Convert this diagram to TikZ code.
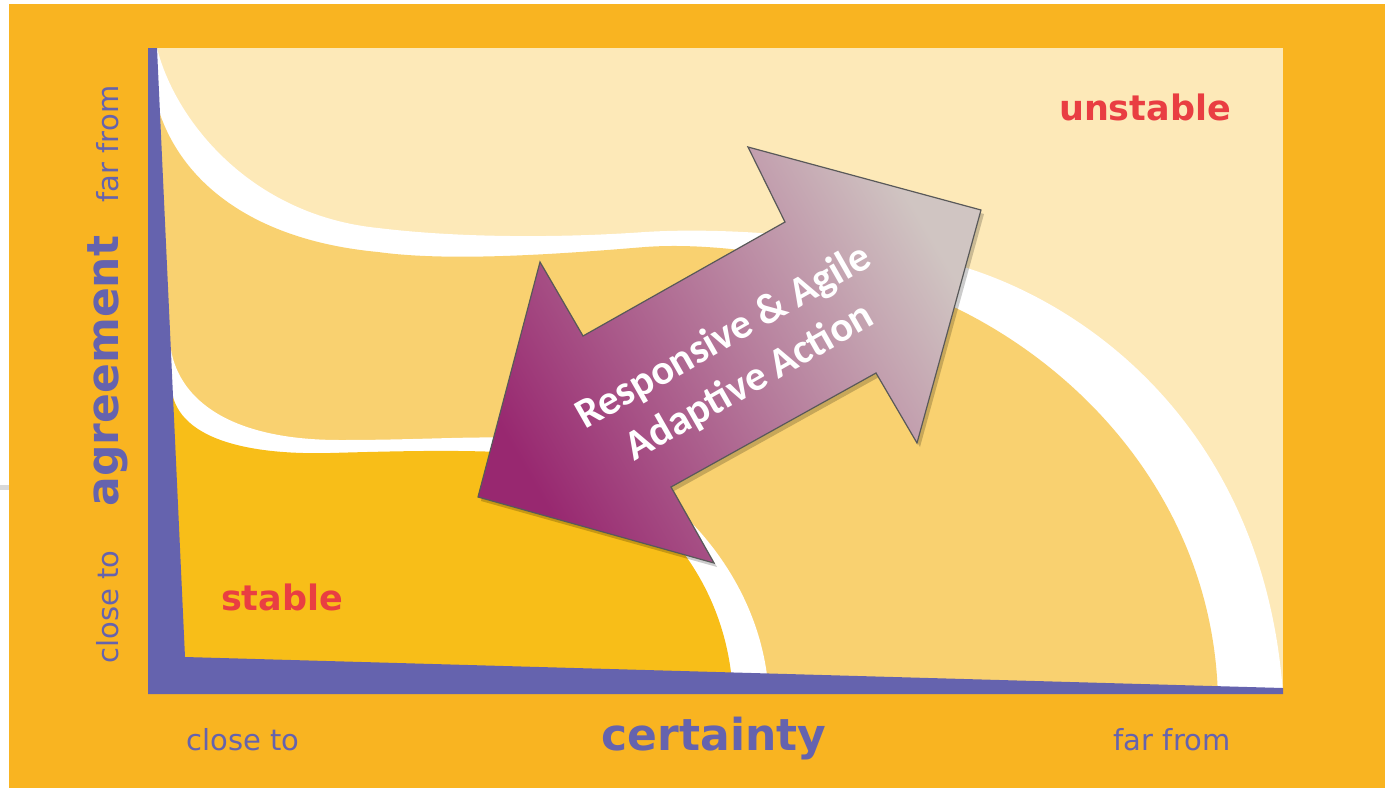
\documentclass[tikz,border=0pt]{standalone}
\usepackage{fontspec}
\setmainfont{DejaVu Sans}
\newfontfamily\arrowfont{Carlito}

\definecolor{bgorange}{RGB}{249,180,33}
\definecolor{cream}{RGB}{253,233,184}
\definecolor{midorange}{RGB}{249,209,112}
\definecolor{deeporange}{RGB}{248,190,24}
\definecolor{axisblue}{RGB}{101,99,174}
\definecolor{zonered}{RGB}{233,62,66}
\definecolor{arrowleft}{RGB}{152,40,112}
\definecolor{arrowmid}{RGB}{186,130,162}
\definecolor{arrowright}{RGB}{208,197,194}

\begin{document}
\begin{tikzpicture}[x=1pt,y=-1pt,
    axislabel/.style={text=axisblue,inner sep=0pt,font=\fontsize{29}{30}\selectfont},
    axistitle/.style={text=axisblue,inner sep=0pt,font=\bfseries\fontsize{44}{46}\selectfont},
    zonelabel/.style={text=zonered,inner sep=0pt,font=\bfseries\fontsize{35}{36}\selectfont}]
    \useasboundingbox (0,0) rectangle (1385,788);
    \fill[white] (0,0) rectangle (1385,788);
    \fill[bgorange] (9,4) rectangle (1385,788);
    \fill[gray!30] (0,485) rectangle (9,490);
    % zones
    \begin{scope}
        \clip (148,48) rectangle (1283,692);
        \fill[cream] (148,48) rectangle (1283,700);
        \fill[white] (140,48) -- (157,48) .. controls (175,120) and (250,215) .. (378,228)
            .. controls (460,238) and (560,238) .. (645,232)
            .. controls (740,226) and (880,240) .. (967,268)
            .. controls (1100,310) and (1265,440) .. (1283,694) -- (1290,700) -- (140,700) -- cycle;
        \fill[midorange] (140,108) -- (158,108) .. controls (180,180) and (250,240) .. (378,252)
            .. controls (450,262) and (560,254) .. (645,247)
            .. controls (740,240) and (880,270) .. (960,310)
            .. controls (1100,380) and (1215,520) .. (1218,700) -- (140,700) -- cycle;
        \fill[white] (140,350) -- (171,350) .. controls (180,400) and (230,440) .. (340,440)
            .. controls (420,440) and (470,436) .. (520,438)
            .. controls (640,445) and (765,560) .. (769,700) -- (140,700) -- cycle;
        \fill[deeporange] (140,397) -- (173,397) .. controls (185,440) and (250,455) .. (330,453)
            .. controls (400,451) and (450,450) .. (500,452)
            .. controls (620,458) and (730,560) .. (733,700) -- (140,700) -- cycle;
    \end{scope}
    % axes
    \fill[axisblue] (148,48) -- (157,48) -- (185,657) -- (1283,688) -- (1283,694) -- (148,694) -- cycle;
    % double arrow
    \fill[black,opacity=0.2,shift={(3,4)}] (478,497) -- (540,262) -- (583,336) -- (785,222) -- (748,147) -- (981,210) -- (917,443) -- (876,373) -- (671,487) -- (714,563) -- cycle;
    \shade[left color=arrowleft,middle color=arrowmid,right color=arrowright,shading angle=120,draw={black!65},line width=1.2pt,line join=miter]
        (478,497) -- (540,262) -- (583,336) -- (785,222) -- (748,147) -- (981,210) -- (917,443) -- (876,373) -- (671,487) -- (714,563) -- cycle;
    \node[rotate=29.7,text=white,align=center,font=\arrowfont\bfseries\fontsize{42}{52}\selectfont] (act) at (737,360) {Responsive \& Agile\\Adaptive Action};
    % labels
    \node[zonelabel,anchor=base] (unst) at (1145,120) {unstable};
    \node[zonelabel,anchor=base] (stab) at (282,610) {stable};
    \node[axislabel,anchor=base] (xclose) at (243,750) {close to};
    \node[axistitle,anchor=base] (cert) at (714,750) {certainty};
    \node[axislabel,anchor=base] (xfar) at (1172,750) {far from};
    \node[axislabel,anchor=base,rotate=90] (yclose) at (118,607) {close to};
    \node[axistitle,anchor=base,rotate=90] (agree) at (118,371) {agreement};
    \node[axislabel,anchor=base,rotate=90] (yfar) at (118,144) {far from};
\end{tikzpicture}
\end{document}
